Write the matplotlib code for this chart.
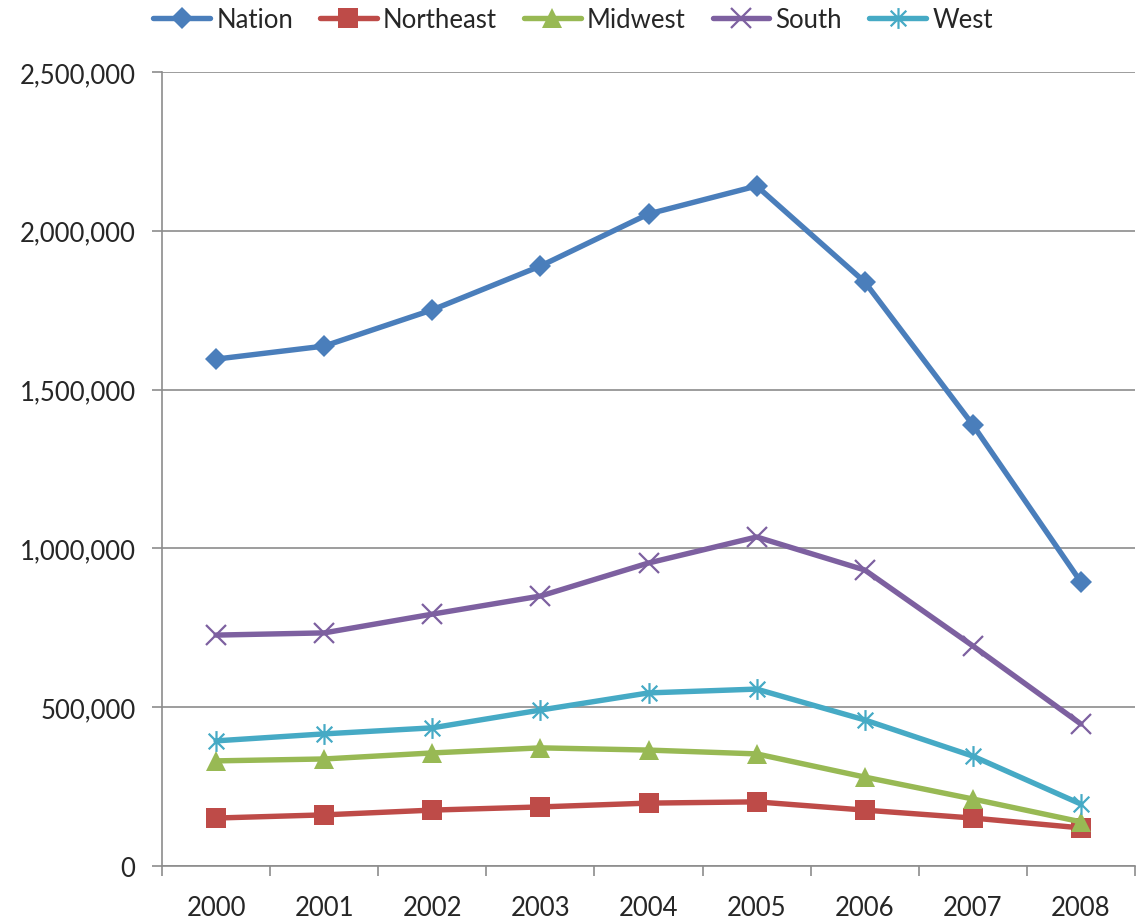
import matplotlib
matplotlib.use("Agg")
import matplotlib.pyplot as plt
from matplotlib.path import Path
from matplotlib.ticker import FuncFormatter

years = ["2000", "2001", "2002", "2003", "2004", "2005", "2006", "2007", "2008"]
nation = [1596000, 1637000, 1751000, 1889000, 2053000, 2141000, 1839000, 1389000, 894000]
northeast = [151000, 161000, 176000, 186000, 198000, 202000, 176000, 151000, 120000]
midwest = [331000, 337000, 356000, 372000, 365000, 353000, 280000, 211000, 139000]
south = [727000, 734000, 793000, 850000, 954000, 1036000, 932000, 693000, 447000]
west = [394000, 416000, 435000, 491000, 545000, 557000, 460000, 346000, 195000]

series_names = ["Nation", "Northeast", "Midwest", "South", "West"]
series_vals = [nation, northeast, midwest, south, west]
colors = ["#4A7EBB", "#BE4B48", "#98B954", "#7D60A0", "#46AAC5"]

star = Path([(0, -1), (0, 1), (-0.75, -0.75), (0.75, 0.75), (-0.75, 0.75), (0.75, -0.75)],
            [Path.MOVETO, Path.LINETO, Path.MOVETO, Path.LINETO, Path.MOVETO, Path.LINETO])
markers = ["D", "s", "^", "x", star]
msizes = [11, 14.5, 15, 14, 15]

plt.rcParams['font.family'] = ['Lato', 'DejaVu Sans']

TXT = '#262626'
FS = 18.5

fig = plt.figure(figsize=(11.41, 9.2), dpi=100)
ax = fig.add_axes([162/1141, (920-867)/920, (1135-162)/1141, (867-73)/920])

x = list(range(len(years)))
for name, vals, c, m, ms in zip(series_names, series_vals, colors, markers, msizes):
    if m == "x" or m is star:
        kw = dict(markeredgewidth=1.6, markeredgecolor=c)
    else:
        kw = dict(markeredgewidth=0, markerfacecolor=c)
    ax.plot(x, vals, color=c, linewidth=3.9, marker=m, markersize=ms, label=name,
            solid_joinstyle='round', solid_capstyle='round', **kw)

ax.set_xlim(-0.5, len(years) - 0.5)
ax.set_ylim(0, 2500000)
ax.set_yticks([0, 500000, 1000000, 1500000, 2000000, 2500000])
ax.yaxis.set_major_formatter(FuncFormatter(lambda v, p: f"{int(v):,}"))
ax.grid(axis='y', color='#8C8C8C', linewidth=1.2)
ax.set_axisbelow(True)

ax.set_xticks([i - 0.5 for i in range(len(years) + 1)])
ax.set_xticklabels([])
ax.set_xticks(x, minor=True)
ax.set_xticklabels(years, minor=True)
ax.tick_params(axis='x', which='major', direction='out', length=7, width=1.2, color='#8C8C8C')
ax.tick_params(axis='x', which='minor', length=0, pad=21, labelsize=FS, labelcolor=TXT)
ax.tick_params(axis='y', direction='out', length=7, width=1.2, color='#8C8C8C',
               labelsize=FS, labelcolor=TXT, pad=12)

for s in ['top', 'right']:
    ax.spines[s].set_visible(False)
for s in ['left', 'bottom']:
    ax.spines[s].set_color('#8C8C8C')
    ax.spines[s].set_linewidth(1.2)

leg = fig.legend(loc='upper left', bbox_to_anchor=(143/1141, 1.003), ncol=5, frameon=False,
                 fontsize=FS, handlelength=2.2, columnspacing=1.05, handletextpad=0.25,
                 borderaxespad=0.0)
for t in leg.get_texts():
    t.set_color(TXT)

fig.savefig("out.png", dpi=100)
